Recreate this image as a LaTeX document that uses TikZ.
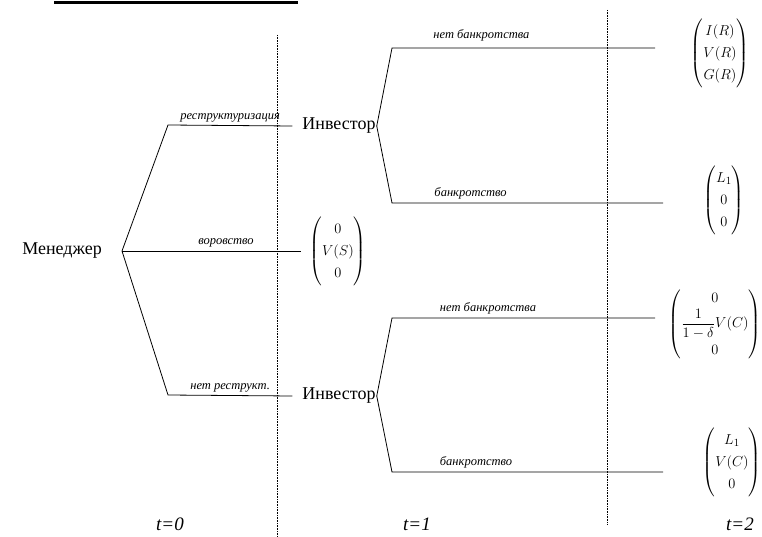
\documentclass[tikz,border=0pt]{standalone}
\usepackage{amsmath}
\usepackage{fontspec}
\setmainfont{Liberation Serif}
\usetikzlibrary{positioning}

\tikzset{
  player/.style={font=\fontsize{18}{20}\selectfont, inner sep=1pt},
  move/.style={font=\fontsize{12.5}{14}\selectfont\itshape, above, inner sep=0pt, yshift=3pt},
  payoff/.style={font=\fontsize{15}{22}\selectfont, inner sep=0pt},
  period/.style={font=\fontsize{19}{22}\selectfont\itshape, inner sep=1pt},
  timeline/.style={densely dotted, line width=0.6pt},
  branch/.style={line width=0.8pt}
}

\begin{document}
\begin{tikzpicture}[x=1pt,y=-1pt]
			\useasboundingbox (0,0) rectangle (762,537);
			\draw[line width=3pt] (54,3) -- (298,3);
			
			% time lines
			\draw[timeline] (277,35) -- (277,537);
			\draw[timeline] (607,10) -- (607,525);
			
			\node[period] (t0) at (170,524) {t=0};
			\node[period] (t1) at (417,524) {t=1};
			\node[period] (t2) at (740,524) {t=2};
			
			% manager
			\node[player] (mgr) at (62,251) {Менеджер};
			\coordinate (m0) at (122,251);
			\coordinate (mr) at (168,125);
			\coordinate (mn) at (168,395);
			
			\node[player] (invA) at (339,126) {Инвестор};
			\node[player] (invB) at (339,396) {Инвестор};
			\node[payoff] (pS) at (338,251) {$\begin{pmatrix}0\\V(S)\\0\end{pmatrix}$};
			
			\draw[branch] (m0) -- (mr) -- node[move] {реструктуризация} ([xshift=-9pt]invA.west);
			\draw[branch] (m0) -- node[move,pos=0.58] {воровство} ([xshift=-8pt]pS.west);
			\draw[branch] (m0) -- (mn) -- node[move] {нет реструкт.} ([xshift=-9pt]invB.west);
			
			% investor after restructuring
			\coordinate (aU) at (392,48);
			\coordinate (aD) at (392,203);
			\coordinate (aUe) at (655,48);
			\coordinate (aDe) at (663,203);
			\draw[branch] (invA.east) -- (aU) -- node[move,pos=0.34,yshift=3pt] {нет банкротства} (aUe);
			\draw[branch] (invA.east) -- (aD) -- node[move,pos=0.29] {банкротство} (aDe);
			
			\node[payoff] (pRR) at (720,53) {$\begin{pmatrix}I(R)\\V(R)\\G(R)\end{pmatrix}$};
			\node[payoff] (pRB) at (724,200) {$\begin{pmatrix}L_1\\0\\0\end{pmatrix}$};
			
			% investor without restructuring
			\coordinate (bU) at (392,318);
			\coordinate (bD) at (392,472);
			\coordinate (bUe) at (655,318);
			\coordinate (bDe) at (663,472);
			\draw[branch] (invB.east) -- (bU) -- node[move,pos=0.365] {нет банкротства} (bUe);
			\draw[branch] (invB.east) -- (bD) -- node[move,pos=0.31] {банкротство} (bDe);
			
			\node[payoff] (pCN) at (715,324) {$\begin{pmatrix}0\\\dfrac{1}{1-\delta}V(C)\\0\end{pmatrix}$};
			\node[payoff] (pCB) at (732,462) {$\begin{pmatrix}L_1\\V(C)\\0\end{pmatrix}$};
			
		\end{tikzpicture}
\end{document}
